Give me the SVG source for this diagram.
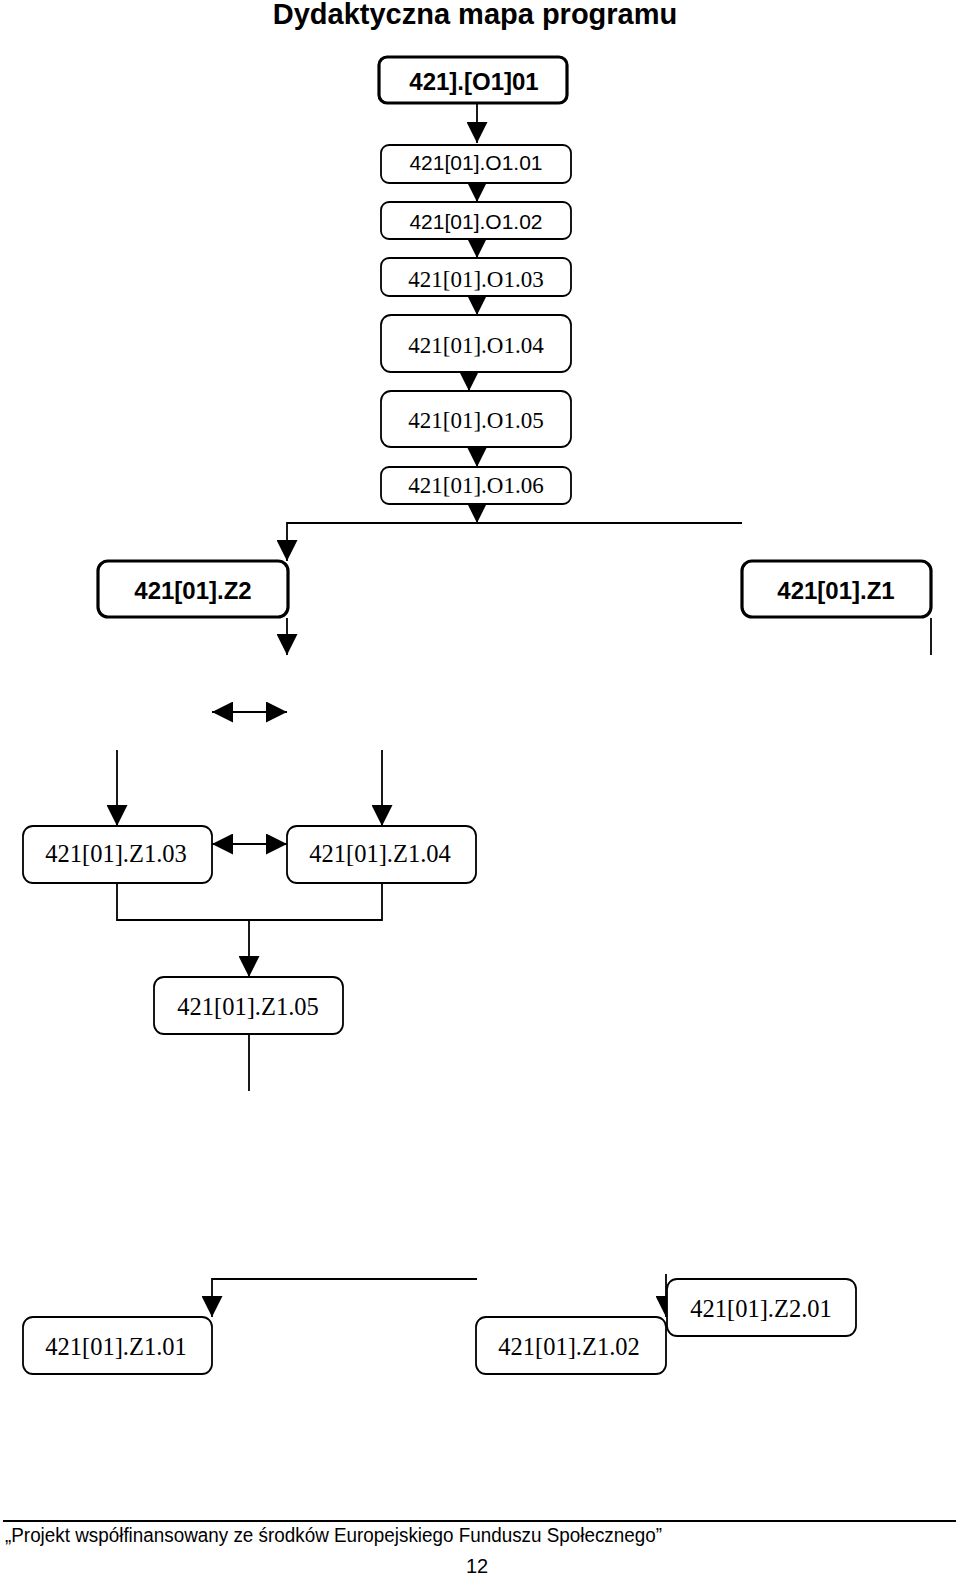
<svg xmlns="http://www.w3.org/2000/svg" width="960" height="1577" viewBox="0 0 960 1577">
<style>
  .bx { fill: #fff; stroke: #000; stroke-width: 1.8; }
  .bxb { fill: #fff; stroke: #000; stroke-width: 3.2; }
  .tb { font-family: "Liberation Sans", Arial, sans-serif; font-weight: bold; font-size: 24px; text-anchor: middle; fill: #000; }
  .ts { font-family: "Liberation Sans", Arial, sans-serif; font-size: 21px; text-anchor: middle; fill: #000; }
  .to { font-family: "Liberation Serif", "Times New Roman", serif; font-size: 23px; text-anchor: middle; fill: #000; }
  .tz { font-family: "Liberation Serif", "Times New Roman", serif; font-size: 24.5px; text-anchor: middle; fill: #000; }
  .ln { fill: none; stroke: #000; stroke-width: 1.8; }
</style>
<defs>
  <marker id="arr" markerUnits="userSpaceOnUse" markerWidth="21" markerHeight="21" refX="21" refY="10.5" orient="auto" viewBox="0 0 21 21">
    <path d="M0,0 L21,10.5 L0,21 z" fill="#000"/>
  </marker>
  <marker id="arrs" markerUnits="userSpaceOnUse" markerWidth="21" markerHeight="21" refX="21" refY="10.5" orient="auto-start-reverse" viewBox="0 0 21 21">
    <path d="M0,0 L21,10.5 L0,21 z" fill="#000"/>
  </marker>
</defs>
<rect width="960" height="1577" fill="#fff"/>
<text x="475" y="24" font-family="Liberation Sans, Arial, sans-serif" font-weight="bold" font-size="29" text-anchor="middle">Dydaktyczna mapa programu</text>

<g id="connectors">
  <path class="ln" d="M477,103 V143" marker-end="url(#arr)"/>
  <path class="ln" d="M477,183 V202" marker-end="url(#arr)"/>
  <path class="ln" d="M477,239 V258" marker-end="url(#arr)"/>
  <path class="ln" d="M477,296 V315" marker-end="url(#arr)"/>
  <path class="ln" d="M469,372 V391" marker-end="url(#arr)"/>
  <path class="ln" d="M477,447 V467" marker-end="url(#arr)"/>
  <path class="ln" d="M477,500 V523"/>
  <path d="M466.5,502 L487.5,502 L477,523 z" fill="#000"/>
  <path class="ln" d="M742,523 H287 V561" marker-end="url(#arr)"/>
  <path class="ln" d="M287,618 V655" marker-end="url(#arr)"/>
  <path class="ln" d="M212,712 H287" marker-start="url(#arrs)" marker-end="url(#arrs)"/>
  <path class="ln" d="M931,618 V655"/>
  <path class="ln" d="M117,750 V826" marker-end="url(#arr)"/>
  <path class="ln" d="M382,750 V826" marker-end="url(#arr)"/>
  <path class="ln" d="M212,844 H287" marker-start="url(#arrs)" marker-end="url(#arrs)"/>
  <path class="ln" d="M117,883 V920 H382 V883"/>
  <path class="ln" d="M249,920 V977" marker-end="url(#arr)"/>
  <path class="ln" d="M249,1034 V1091"/>
  <path class="ln" d="M477,1279 H212 V1317" marker-end="url(#arr)"/>
  <path class="ln" d="M666,1274 V1317" marker-end="url(#arr)"/>
</g>

<g id="n-top"><rect class="bxb" x="379" y="57" width="188" height="46" rx="8"/><text class="tb" x="474" y="90">421].[O1]01</text></g>
<g id="n-o101"><rect class="bx" x="381" y="145" width="190" height="38" rx="8"/><text class="ts" x="476" y="170">421[01].O1.01</text></g>
<g id="n-o102"><rect class="bx" x="381" y="202" width="190" height="37" rx="8"/><text class="ts" x="476" y="229">421[01].O1.02</text></g>
<g id="n-o103"><rect class="bx" x="381" y="258" width="190" height="38" rx="8"/><text class="to" x="476" y="287">421[01].O1.03</text></g>
<g id="n-o104"><rect class="bx" x="381" y="315" width="190" height="57" rx="10"/><text class="to" x="476" y="353">421[01].O1.04</text></g>
<g id="n-o105"><rect class="bx" x="381" y="391" width="190" height="56" rx="10"/><text class="to" x="476" y="428">421[01].O1.05</text></g>
<g id="n-o106"><rect class="bx" x="381" y="467" width="190" height="37" rx="8"/><text class="to" x="476" y="493">421[01].O1.06</text></g>
<g id="n-z2"><rect class="bxb" x="98" y="561" width="190" height="56" rx="10"/><text class="tb" x="193" y="599">421[01].Z2</text></g>
<g id="n-z1"><rect class="bxb" x="742" y="561" width="189" height="56" rx="10"/><text class="tb" x="836" y="599">421[01].Z1</text></g>
<g id="n-z103"><rect class="bx" x="23" y="826" width="189" height="57" rx="10"/><text class="tz" x="116" y="862">421[01].Z1.03</text></g>
<g id="n-z104"><rect class="bx" x="287" y="826" width="189" height="57" rx="10"/><text class="tz" x="380" y="862">421[01].Z1.04</text></g>
<g id="n-z105"><rect class="bx" x="154" y="977" width="189" height="57" rx="10"/><text class="tz" x="248" y="1015">421[01].Z1.05</text></g>
<g id="n-z101"><rect class="bx" x="23" y="1317" width="189" height="57" rx="10"/><text class="tz" x="116" y="1355">421[01].Z1.01</text></g>
<g id="n-z102"><rect class="bx" x="476" y="1317" width="190" height="57" rx="10"/><text class="tz" x="569" y="1355">421[01].Z1.02</text></g>
<g id="n-z201"><rect class="bx" x="667" y="1279" width="189" height="57" rx="10"/><text class="tz" x="761" y="1317">421[01].Z2.01</text></g>

<g id="footer">
  <line x1="3" y1="1521" x2="956" y2="1521" stroke="#000" stroke-width="2"/>
  <text x="5" y="1542" font-family="Liberation Sans, Arial, sans-serif" font-size="20" textLength="657" lengthAdjust="spacingAndGlyphs">„Projekt współfinansowany ze środków Europejskiego Funduszu Społecznego”</text>
  <text x="477" y="1573" font-family="Liberation Sans, Arial, sans-serif" font-size="20" text-anchor="middle">12</text>
</g>
</svg>
